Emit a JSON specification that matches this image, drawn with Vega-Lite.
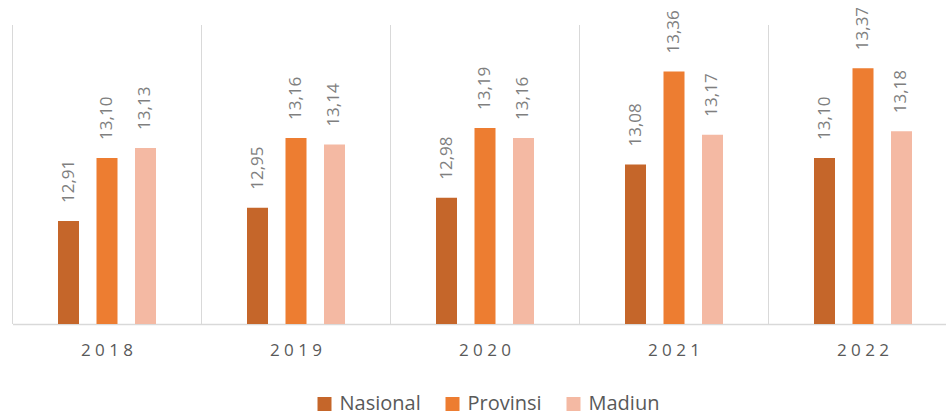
{
  "$schema": "https://vega.github.io/schema/vega-lite/v6.json",
  "autosize": "none",
  "width": 934,
  "height": 299,
  "padding": {"left": 12.5, "top": 25, "right": 0, "bottom": 91},
  "background": "white",
  "config": {
    "view": {"stroke": null},
    "font": "Open Sans",
    "locale": {"number": {"decimal": ",", "thousands": ".", "grouping": [3], "currency": ["", ""]}}
  },
  "data": {
    "values": [
      {"year": "2018", "series": "Nasional", "value": 12.91},
      {"year": "2018", "series": "Provinsi", "value": 13.10},
      {"year": "2018", "series": "Madiun", "value": 13.13},
      {"year": "2019", "series": "Nasional", "value": 12.95},
      {"year": "2019", "series": "Provinsi", "value": 13.16},
      {"year": "2019", "series": "Madiun", "value": 13.14},
      {"year": "2020", "series": "Nasional", "value": 12.98},
      {"year": "2020", "series": "Provinsi", "value": 13.19},
      {"year": "2020", "series": "Madiun", "value": 13.16},
      {"year": "2021", "series": "Nasional", "value": 13.08},
      {"year": "2021", "series": "Provinsi", "value": 13.36},
      {"year": "2021", "series": "Madiun", "value": 13.17},
      {"year": "2022", "series": "Nasional", "value": 13.10},
      {"year": "2022", "series": "Provinsi", "value": 13.37},
      {"year": "2022", "series": "Madiun", "value": 13.18}
    ]
  },
  "layer": [
    {
      "mark": {"type": "rule", "color": "#d9d9d9", "strokeWidth": 1},
      "encoding": {
        "x": {"field": "year", "type": "nominal", "bandPosition": 0}
      }
    },
    {
      "mark": {"type": "bar"},
      "encoding": {
        "x": {
          "field": "year", "type": "nominal",
          "scale": {"range": [0, 945], "paddingInner": 0, "paddingOuter": 0},
          "axis": {
            "title": null, "labelAngle": 0, "labelAlign": "center", "bandPosition": 0.5,
            "ticks": false, "grid": false,
            "domainColor": "#d9d9d9", "domainWidth": 1.5,
            "labelFont": "Open Sans", "labelFontSize": 17, "labelColor": "#595959",
            "labelPadding": 18, "labelBaseline": "top",
            "labelExpr": "join(split(datum.label, ''), ' ')"
          }
        },
        "xOffset": {
          "field": "series", "type": "nominal",
          "sort": ["Nasional", "Provinsi", "Madiun"],
          "scale": {"range": [45.5, 143.5], "paddingInner": 0.4545, "paddingOuter": 0}
        },
        "y": {
          "field": "value", "type": "quantitative",
          "scale": {"domain": [12.6, 13.5], "zero": false, "nice": false},
          "axis": null
        },
        "y2": {"datum": 12.6},
        "color": {
          "field": "series", "type": "nominal",
          "sort": ["Nasional", "Provinsi", "Madiun"],
          "scale": {"domain": ["Nasional", "Provinsi", "Madiun"], "range": ["#C5662A", "#ED7D31", "#F4B9A3"]},
          "legend": {
            "title": null, "orient": "none", "direction": "horizontal",
            "legendX": 302, "legendY": 369,
            "symbolType": "square", "symbolSize": 196, "symbolStrokeWidth": 0,
            "labelFont": "Open Sans", "labelFontSize": 20, "labelColor": "#595959",
            "labelOffset": 5, "columnPadding": 21, "padding": 0
          }
        }
      }
    },
    {
      "mark": {"type": "text", "angle": 270, "align": "left", "baseline": "middle", "dx": 18, "fontSize": 17, "color": "#7f7f7f", "font": "Open Sans"},
      "encoding": {
        "x": {"field": "year", "type": "nominal"},
        "xOffset": {"field": "series", "type": "nominal", "sort": ["Nasional", "Provinsi", "Madiun"]},
        "y": {"field": "value", "type": "quantitative"},
        "text": {"field": "value", "type": "quantitative", "format": ".2f"}
      }
    }
  ]
}
